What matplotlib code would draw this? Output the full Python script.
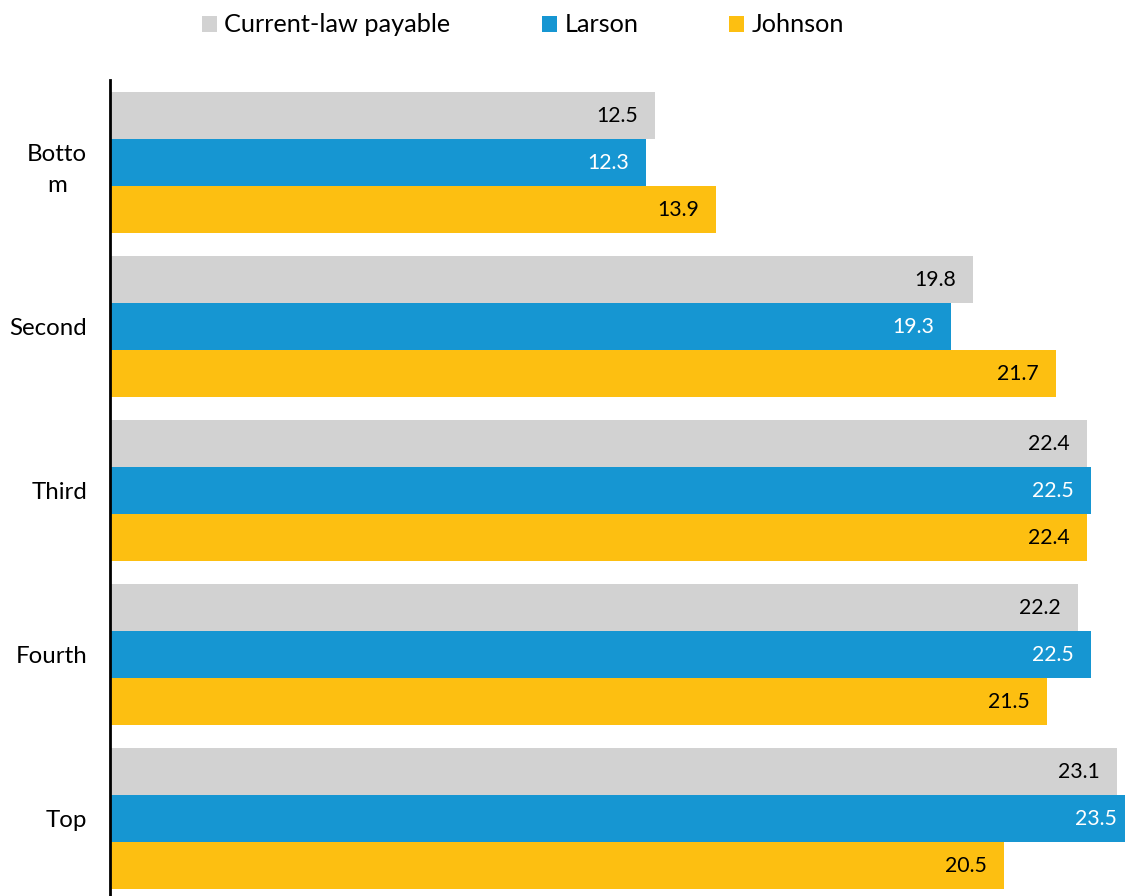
import matplotlib.pyplot as plt
import numpy as np

plt.rcParams['font.family'] = ['Lato', 'DejaVu Sans']

categories = ['Botto\nm', 'Second', 'Third', 'Fourth', 'Top']
current_law = [12.5, 19.8, 22.4, 22.2, 23.1]
larson = [12.3, 19.3, 22.5, 22.5, 23.5]
johnson = [13.9, 21.7, 22.4, 21.5, 20.5]

series = [('Current-law payable', current_law, '#d2d2d2', 'black'),
          ('Larson', larson, '#1696d2', 'white'),
          ('Johnson', johnson, '#fdbf11', 'black')]

W, H = 1125, 896
fig = plt.figure(figsize=(W / 100, H / 100), dpi=100)
# axes box in pixels: left edge at 110, top at 80, runs a bit past the figure
x0, x1 = 110, 110 + 23.6 * 43.6
y_top, y_bot = 80, 901
ax = fig.add_axes([x0 / W, (H - y_bot) / H, (x1 - x0) / W, (y_bot - y_top) / H])

y = np.arange(len(categories))
h = 0.2866
for i, (name, vals, color, tcolor) in enumerate(series):
    pos = y + (i - 1) * h
    bars = ax.barh(pos, vals, height=h, color=color, label=name)
    for b, v in zip(bars, vals):
        ax.annotate(f'{v:.1f}', xy=(v, b.get_y() + h / 2), xytext=(-12.5, 0),
                    textcoords='offset points', ha='right', va='center',
                    fontsize=15.3, color=tcolor, annotation_clip=False)

ax.set_xlim(0, 23.6)
ax.set_ylim(4.50, -0.503)
ax.set_yticks(y)
ax.set_yticklabels(categories, fontsize=17.3, ha='right', multialignment='center',
                   linespacing=1.6)
ax.tick_params(axis='y', length=0, pad=16.5)
ax.set_xticks([])
for s in ['top', 'right', 'bottom']:
    ax.spines[s].set_visible(False)
ax.spines['left'].set_linewidth(2)

fig.legend(loc='center', bbox_to_anchor=(0.465, 1 - 25 / H), ncol=3, frameon=False,
           fontsize=18.2, handlelength=0.6, handleheight=0.6, handletextpad=0.3,
           columnspacing=3.6)

fig.savefig('out.png', dpi=100)
